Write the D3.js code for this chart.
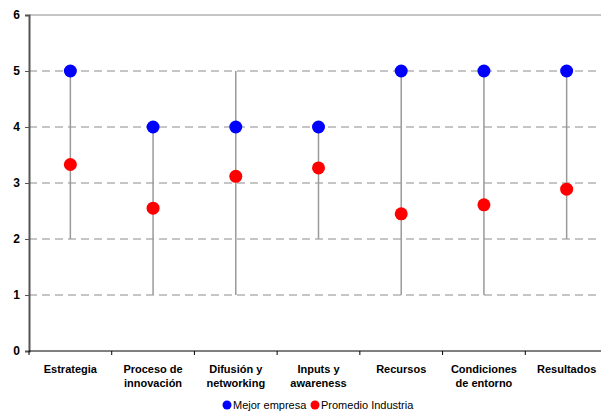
<!DOCTYPE html>
<html>
<head>
<meta charset="utf-8">
<script src="https://cdn.jsdelivr.net/npm/d3@7"></script>
<style>
  body { margin: 0; background: #fff; }
  svg { display: block; font-family: "Liberation Sans", Arial, sans-serif; }
</style>
</head>
<body>
<svg id="chart" width="601" height="412"></svg>
<script>
// Categories and values per dimension
const categories = [
  ["Estrategia"],
  ["Proceso de", "innovación"],
  ["Difusión y", "networking"],
  ["Inputs y", "awareness"],
  ["Recursos"],
  ["Condiciones", "de entorno"],
  ["Resultados"]
];
const rangeMin = [2, 1, 1, 2, 1, 1, 2];
const rangeMax = [5, 4, 5, 4, 5, 5, 5];
const mejorEmpresa = [5, 4, 4, 4, 5, 5, 5];
const promedioIndustria = [3.33, 2.55, 3.12, 3.27, 2.45, 2.61, 2.89];
const yTicks = [0, 1, 2, 3, 4, 5, 6];
const seriesNames = ["Mejor empresa", "Promedio Industria"];
const seriesColors = ["#0000ff", "#ff0000"];

const svg = d3.select("#chart");
const plotLeft = 29, plotTop = 15, plotW = 579, plotH = 336;

const x = d3.scaleBand()
  .domain(d3.range(categories.length))
  .range([plotLeft, plotLeft + plotW])
  .padding(0);
const y = d3.scaleLinear().domain([0, 6]).range([plotTop + plotH, plotTop]);

// Horizontal gridlines (dashed), top border solid
svg.append("g")
  .selectAll("line")
  .data(yTicks.filter(t => t > 0 && t < 6))
  .join("line")
  .attr("x1", plotLeft).attr("x2", plotLeft + plotW)
  .attr("y1", d => y(d)).attr("y2", d => y(d))
  .attr("stroke", "#8c8c8c")
  .attr("stroke-width", 1)
  .attr("stroke-dasharray", "8,5");

svg.append("line")
  .attr("x1", plotLeft).attr("x2", plotLeft + plotW)
  .attr("y1", y(6)).attr("y2", y(6))
  .attr("stroke", "#8c8c8c").attr("stroke-width", 1);

// Range lines from min to max
svg.append("g")
  .selectAll("line")
  .data(categories.map((c, i) => i))
  .join("line")
  .attr("x1", i => x(i) + x.bandwidth() / 2)
  .attr("x2", i => x(i) + x.bandwidth() / 2)
  .attr("y1", i => y(rangeMin[i]))
  .attr("y2", i => y(rangeMax[i]))
  .attr("stroke", "#9a9a9a")
  .attr("stroke-width", 1.5);

// Y axis
const yAxis = svg.append("g")
  .attr("transform", `translate(${plotLeft},0)`)
  .call(d3.axisLeft(y).tickValues(yTicks).tickSize(4).tickFormat(d3.format("d")));
yAxis.select(".domain").attr("stroke", "#555").attr("stroke-width", 2);
yAxis.selectAll(".tick line").attr("stroke", "#555");
yAxis.selectAll("text")
  .attr("x", -9)
  .attr("font-size", 12).attr("font-weight", "bold").attr("fill", "#000")
  .attr("font-family", "Liberation Sans, Arial, sans-serif");

// X axis
const xAxis = svg.append("g")
  .attr("transform", `translate(0,${plotTop + plotH})`);
xAxis.append("line")
  .attr("x1", plotLeft).attr("x2", plotLeft + plotW)
  .attr("y1", 0).attr("y2", 0)
  .attr("stroke", "#000").attr("stroke-width", 1);
xAxis.selectAll("line.tick")
  .data(d3.range(categories.length + 1))
  .join("line")
  .attr("class", "tick")
  .attr("x1", i => plotLeft + i * x.step())
  .attr("x2", i => plotLeft + i * x.step())
  .attr("y1", 0).attr("y2", 4)
  .attr("stroke", "#000");

const labels = xAxis.selectAll("text")
  .data(categories)
  .join("text")
  .attr("text-anchor", "middle")
  .attr("font-size", 11)
  .attr("font-weight", "bold")
  .attr("fill", "#000");
labels.each(function(lines, i) {
  const t = d3.select(this);
  lines.forEach((ln, j) => {
    t.append("tspan")
      .attr("x", x(i) + x.bandwidth() / 2)
      .attr("y", 22 + j * 14)
      .text(ln);
  });
});

// Points
const seriesData = [mejorEmpresa, promedioIndustria];
seriesData.forEach((vals, s) => {
  svg.append("g")
    .selectAll("circle")
    .data(vals)
    .join("circle")
    .attr("cx", (d, i) => x(i) + x.bandwidth() / 2)
    .attr("cy", d => y(d))
    .attr("r", 6.5)
    .attr("fill", seriesColors[s]);
});

// Legend
const legend = svg.append("g").attr("transform", "translate(0,405)");
const legendX = [227, 315];
seriesNames.forEach((name, s) => {
  legend.append("circle")
    .attr("cx", legendX[s]).attr("cy", 0).attr("r", 4.5)
    .attr("fill", seriesColors[s]);
  legend.append("text")
    .attr("x", legendX[s] + 6).attr("y", 4)
    .attr("font-size", 11).attr("fill", "#000")
    .text(name);
});
</script>
</body>
</html>
